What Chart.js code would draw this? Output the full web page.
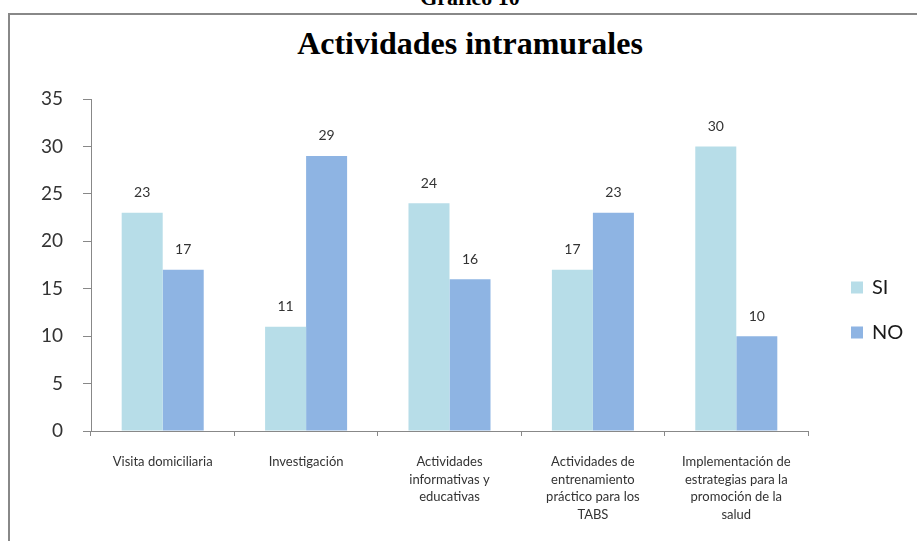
<!DOCTYPE html>
<html>
<head>
<meta charset="utf-8">
<title>Actividades intramurales</title>
<script src="https://cdn.jsdelivr.net/npm/chart.js@4.4.1/dist/chart.umd.min.js"></script>
<style>
    html, body { margin: 0; padding: 0; background: #fff; overflow: hidden; }
    body { width: 917px; height: 541px; position: relative; }
    .frame {
        position: absolute; left: 8px; top: 13px; width: 1000px; height: 700px;
        border: 2px solid #888888; box-sizing: border-box;
    }
    .caption {
        position: absolute; left: 370px; width: 200px; top: -15px; text-align: center;
        font: bold 22px "Liberation Serif", serif; color: #000;
    }
    .title {
        position: absolute; left: 220px; width: 500px; top: 25px; text-align: center;
        font: bold 32px "Liberation Serif", serif; color: #000; line-height: 36px;
    }
    #chartWrap { position: absolute; left: 0; top: 0; width: 917px; height: 541px; }
</style>
</head>
<body>
<div class="frame"></div>
<div class="caption">Gráfico 10</div>
<div class="title">Actividades intramurales</div>
<div id="chartWrap"><canvas id="chart"></canvas></div>

<script>
// data
const categories = [
    ['Visita domiciliaria'],
    ['Investigación'],
    ['Actividades', 'informativas y', 'educativas'],
    ['Actividades de', 'entrenamiento', 'práctico para los', 'TABS'],
    ['Implementación de', 'estrategias para la', 'promoción de la', 'salud']
];
const siValues = [23, 11, 24, 17, 30];
const noValues = [17, 29, 16, 23, 10];
const yTicks = [0, 5, 10, 15, 20, 25, 30, 35];

const axisColor = '#888888';
const textColor = '#333333';

// value labels above each bar
const barLabels = {
    id: 'barLabels',
    afterDatasetsDraw(chart) {
        const ctx = chart.ctx;
        ctx.save();
        ctx.font = '14px Lato';
        ctx.fillStyle = textColor;
        ctx.textAlign = 'center';
        ctx.textBaseline = 'middle';
        chart.data.datasets.forEach((ds, i) => {
            chart.getDatasetMeta(i).data.forEach((bar, j) => {
                ctx.fillText(String(ds.data[j]), bar.x, bar.y - 20);
            });
        });
        ctx.restore();
    }
};

// legend on the right, Excel style
const sideLegend = {
    id: 'sideLegend',
    afterDraw(chart) {
        const ctx = chart.ctx;
        const area = chart.chartArea;
        const x = area.right + 43;
        const mid = (area.top + area.bottom) / 2 + 45;
        const n = chart.data.datasets.length;
        ctx.save();
        ctx.font = '20px Lato';
        ctx.textBaseline = 'middle';
        chart.data.datasets.forEach((ds, i) => {
            const y = mid + (i - (n - 1) / 2) * 45;
            ctx.fillStyle = ds.backgroundColor;
            ctx.fillRect(x, y - 6, 12, 12);
            ctx.fillStyle = '#1a1a1a';
            ctx.fillText(ds.label, x + 21, y);
        });
        ctx.restore();
    }
};

const ctx = document.getElementById('chart').getContext('2d');
const chart = new Chart(ctx, {
    type: 'bar',
    data: {
        labels: categories,
        datasets: [
            { label: 'SI', data: siValues, backgroundColor: '#b7dde8' },
            { label: 'NO', data: noValues, backgroundColor: '#8eb4e3' }
        ]
    },
    options: {
        responsive: true,
        maintainAspectRatio: false,
        animation: false,
        layout: { padding: { left: 10, right: 109, top: 99, bottom: 0 } },
        datasets: { bar: { categoryPercentage: 0.572, barPercentage: 1.0 } },
        plugins: {
            legend: { display: false },
            title: { display: false },
            tooltip: { enabled: false }
        },
        scales: {
            x: {
                grid: { display: true, offset: true, drawOnChartArea: false, tickLength: 5, color: axisColor },
                border: { color: axisColor },
                ticks: {
                    maxRotation: 0, autoSkip: false, padding: 17, color: textColor,
                    font: { family: 'Lato', size: 13, lineHeight: 1.35 }
                },
                afterFit(scale) { scale.height = 110; }
            },
            y: {
                min: 0,
                max: 35,
                afterBuildTicks(scale) { scale.ticks = yTicks.map(v => ({ value: v })); },
                grid: { drawOnChartArea: false, tickLength: 8, color: axisColor },
                border: { color: axisColor },
                ticks: { padding: 20, color: textColor, font: { family: 'Lato', size: 19 } },
                afterFit(scale) { scale.width = 81; }
            }
        }
    },
    plugins: [barLabels, sideLegend]
});
</script>
</body>
</html>
